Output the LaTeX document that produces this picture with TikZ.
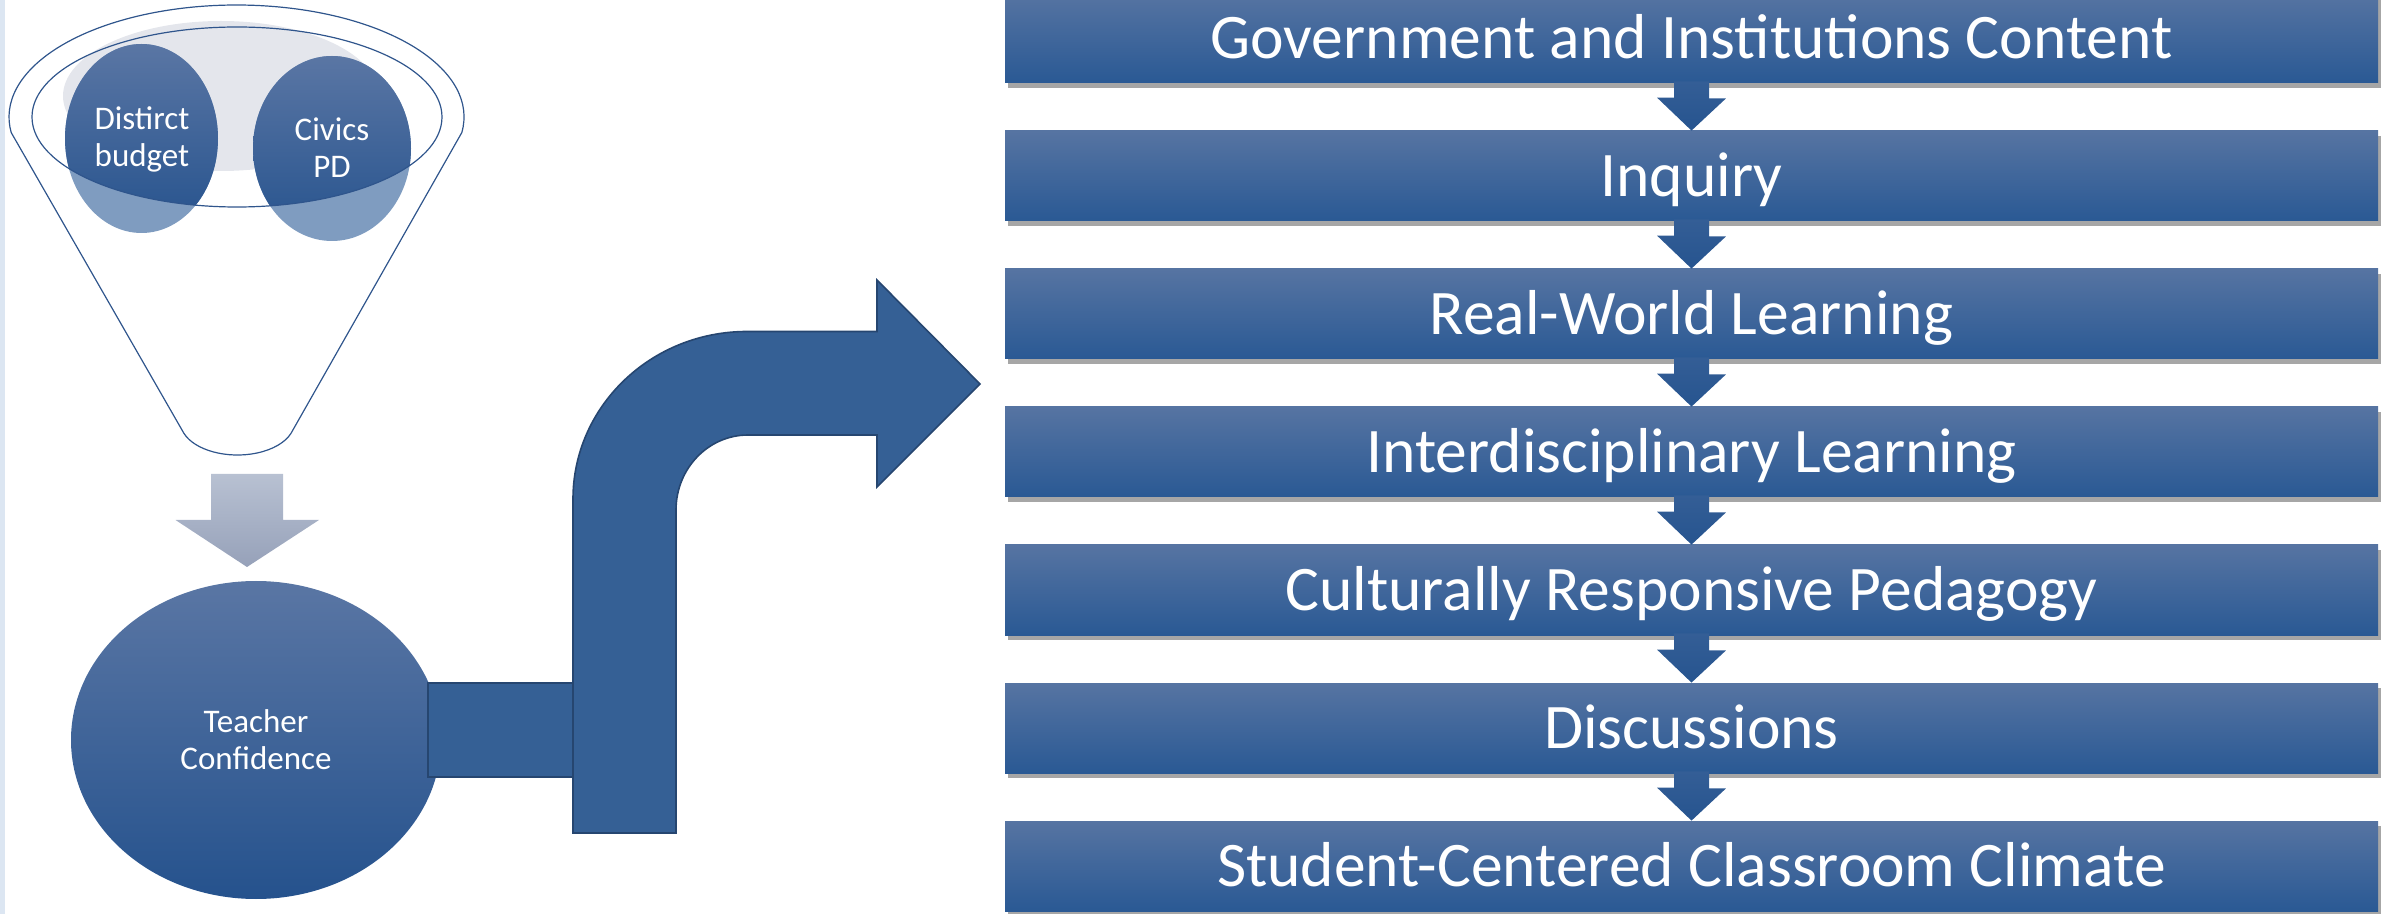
\documentclass[tikz,border=0pt]{standalone}
\usepackage{fontspec}
\setmainfont{Carlito}
\usetikzlibrary{shapes.geometric,shadows}
\definecolor{boxtop}{RGB}{86,116,162}
\definecolor{boxbot}{RGB}{42,89,148}
\definecolor{arrtop}{RGB}{52,94,150}
\definecolor{arrbot}{RGB}{38,84,143}
\definecolor{ctop}{RGB}{90,118,164}
\definecolor{cbot}{RGB}{37,82,141}
\definecolor{clight}{RGB}{127,156,192}
\definecolor{funline}{RGB}{47,85,140}
\definecolor{fungray}{RGB}{228,230,236}
\definecolor{bentfill}{RGB}{53,96,149}
\definecolor{bentline}{RGB}{38,70,112}
\definecolor{graytop}{RGB}{184,193,210}
\definecolor{graybot}{RGB}{150,161,185}
\definecolor{stripc}{RGB}{220,230,242}
\begin{document}
\begin{tikzpicture}[x=0.5pt,y=-0.5pt,
  stepbox/.style={rectangle, minimum width=686.5pt, minimum height=45pt, inner sep=0pt,
    top color=boxtop, bottom color=boxbot, text=white,
    font=\fontsize{31.75}{38}\selectfont, text height=20.4pt, text depth=0pt,
    drop shadow={shadow xshift=1.5pt, shadow yshift=-2.5pt, opacity=0.35, fill=black}},
  smalltext/.style={text=white, align=center, font=\fontsize{16.5}{18.5}\selectfont, inner sep=0pt},
  funnelline/.style={draw=funline, line width=0.6pt},
  bent/.style={fill=bentfill, draw=bentline, line width=0.8pt},
  flowarrow/.style={top color=arrtop, bottom color=arrbot}]
\useasboundingbox (0,0) rectangle (2395,914);
\fill[stripc] (0,0) rectangle (5,914);

% funnel contents
\fill[fungray] (221,96) ellipse[x radius=158,y radius=75];
\fill[clight] (141.5,138.5) ellipse[x radius=76.5,y radius=94.5];
\fill[clight] (332,148.5) ellipse[x radius=79,y radius=92.5];
\begin{scope}
  \clip (237,117) ellipse[x radius=205,y radius=90];
  \shade[top color=ctop,bottom color=cbot] (141.5,138.5) ellipse[x radius=76.5,y radius=94.5];
  \shade[top color=ctop,bottom color=cbot] (332,148.5) ellipse[x radius=79,y radius=92.5];
\end{scope}
\draw[funnelline] (461.8,132.6) arc[start angle=8,end angle=-188,x radius=227.5,y radius=112]
  -- (183.9,433.3) arc[start angle=160,end angle=20,x radius=57,y radius=33] -- cycle;
\draw[funnelline] (237,117) ellipse[x radius=205,y radius=90];
\node[smalltext] (db) at (142,139) {Distirct\\budget};
\node[smalltext] (cp) at (332,148) {Civics\\PD};

% gray down arrow
\shade[top color=graytop,bottom color=graybot] (211,474) -- (283,474) -- (283,520) -- (319,520)
  -- (247,567) -- (175.5,520) -- (211,520) -- cycle;

% teacher confidence
\node[ellipse, minimum width=185pt, minimum height=159pt, inner sep=0pt,
  top color=ctop, bottom color=cbot, text=white, align=center,
  font=\fontsize{16.5}{18.5}\selectfont] (tc) at (256,740) {Teacher\\Confidence};

% connector block and bent arrow
\draw[bent] (428,683) rectangle (573,777);
\draw[bent] (573,833) -- (573,499)
  arc[start angle=180,end angle=270,x radius=174,y radius=167.5]
  -- (877,331.5) -- (877,280) -- (980,384) -- (877,487) -- (877,435) -- (748,435)
  arc[start angle=270,end angle=180,x radius=72,y radius=75]
  -- (676,833) -- cycle;

% flow boxes
\node[stepbox] (b1) at (1691.5,38) {Government and Institutions Content};
\node[stepbox] (b2) at (1691.5,176) {Inquiry};
\node[stepbox] (b3) at (1691.5,314) {Real-World Learning};
\node[stepbox] (b4) at (1691.5,452) {Interdisciplinary Learning};
\node[stepbox] (b5) at (1691.5,590) {Culturally Responsive Pedagogy};
\node[stepbox] (b6) at (1691.5,728) {Discussions};
\node[stepbox] (b7) at (1691.5,866) {Student-Centered Classroom Climate};

\foreach \a/\b in {b1/b2,b2/b3,b3/b4,b4/b5,b5/b6,b6/b7}{
  \shade[flowarrow] (\a.south) ++(-17.5,-2) -- ++(35,0) -- ++(0,17) -- ++(17,0)
    -- (\b.north) -- ++(-34.5,-33) -- ++(17,0) -- cycle;
}
\end{tikzpicture}
\end{document}
